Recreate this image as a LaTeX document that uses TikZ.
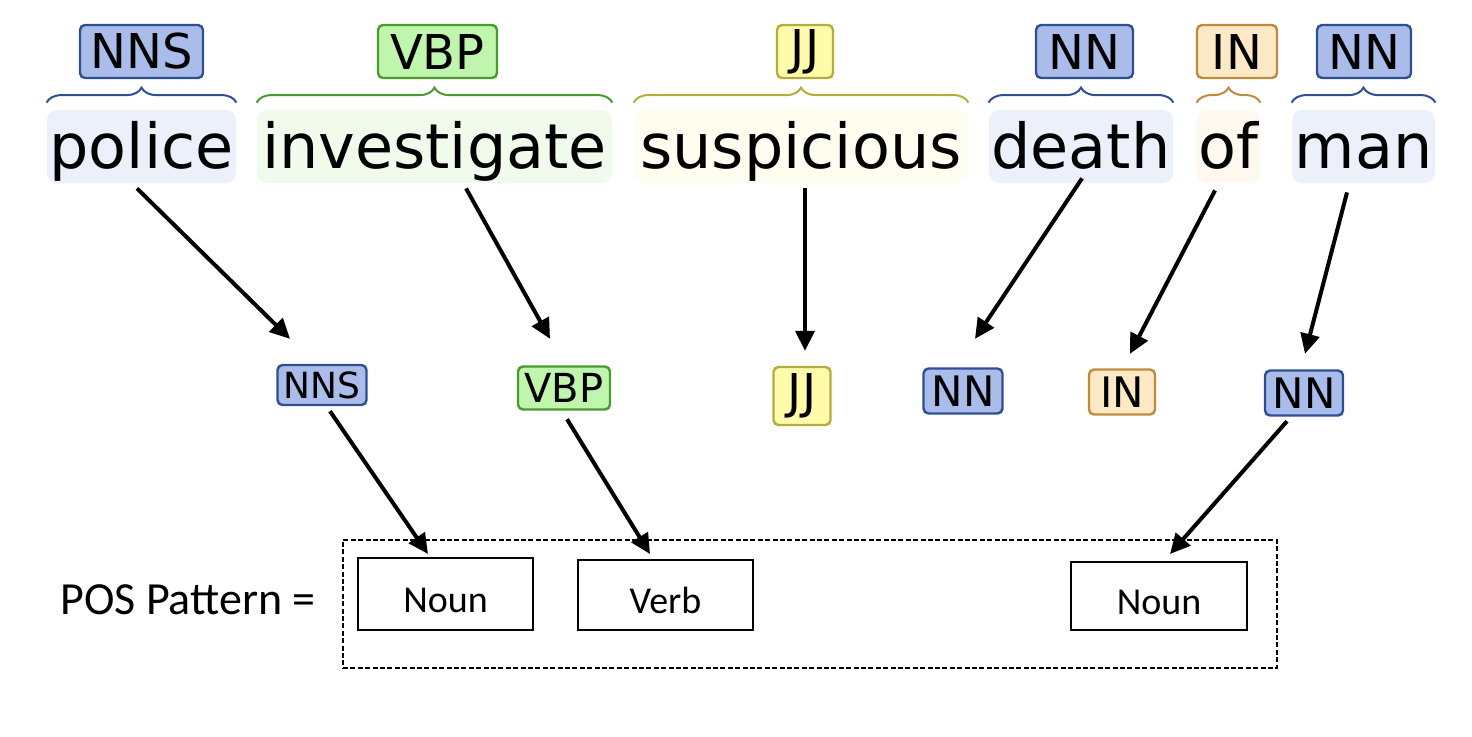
\documentclass[tikz,border=0pt]{standalone}
\usepackage{fontspec}
\setmainfont{DejaVu Sans}
\newfontfamily\calfont{Carlito}
\usetikzlibrary{arrows.meta,decorations.pathreplacing,calc}
\definecolor{bluefill}{HTML}{A9BCEA}
\definecolor{blueline}{HTML}{2F4F94}
\definecolor{bluebg}{HTML}{ECF0FA}
\definecolor{greenfill}{HTML}{C0F5AE}
\definecolor{greenline}{HTML}{4A9A2E}
\definecolor{greenbg}{HTML}{F0FBEC}
\definecolor{yellowfill}{HTML}{FFFBAA}
\definecolor{yellowline}{HTML}{B3AE3C}
\definecolor{yellowbg}{HTML}{FFFDEF}
\definecolor{orangefill}{HTML}{FDE9C6}
\definecolor{orangeline}{HTML}{C08A3E}
\definecolor{orangebg}{HTML}{FFF8EF}
\tikzset{
  word/.style={fill=#1, rounded corners=5pt, inner xsep=0pt, inner ysep=0pt,
    minimum height=36.5pt, text height=29pt, text depth=7.5pt,
    font=\fontsize{31}{31}\selectfont},
  tag/.style n args={2}{fill=#1, draw=#2, line width=1.2pt, rounded corners=2.5pt, inner sep=0pt},
  toptag/.style={font=\fontsize{24}{24}\selectfont, minimum height=26.5pt},
  brc/.style={decorate, decoration={brace, amplitude=7.5pt}, line width=1pt},
  arr/.style={line width=2pt, -{Triangle[length=10pt,width=9.5pt]}},
  pbox/.style={draw=black, line width=1pt, inner sep=0pt, text height=18pt, text depth=0pt,
    font=\calfont\fontsize{19}{19}\selectfont},
  patbox/.style={draw=black, line width=1.1pt, dash pattern=on 2.5pt off 1.2pt, inner sep=0pt},
}
\begin{document}
\begin{tikzpicture}[x=0.5pt,y=-0.5pt]
\useasboundingbox (0,0) rectangle (1472,736);

% words
\node[word=bluebg, minimum width=94.5pt] (w1) at (141.5,146.5) {police};
\node[word=greenbg, minimum width=177.5pt] (w2) at (434.5,146.5) {investigate};
\node[word=yellowbg, minimum width=167pt] (w3) at (801,146.5) {suspicious};
\node[word=bluebg, minimum width=92pt] (w4) at (1081,146.5) {death};
\node[word=orangebg, minimum width=31.5pt] (w5) at (1228.5,146.5) {of};
\node[word=bluebg, minimum width=71.5pt] (w6) at (1363.5,146.5) {man};

% braces
\draw[brc, blueline] ($(w1.north west)+(0,-7)$) -- ($(w1.north east)+(0,-7)$);
\draw[brc, greenline] ($(w2.north west)+(0,-7)$) -- ($(w2.north east)+(0,-7)$);
\draw[brc, yellowline] ($(w3.north west)+(0,-7)$) -- ($(w3.north east)+(0,-7)$);
\draw[brc, blueline] ($(w4.north west)+(0,-7)$) -- ($(w4.north east)+(0,-7)$);
\draw[brc, orangeline] ($(w5.north west)+(0,-7)$) -- ($(w5.north east)+(0,-7)$);
\draw[brc, blueline] ($(w6.north west)+(0,-7)$) -- ($(w6.north east)+(0,-7)$);

% top tags
\node[tag={bluefill}{blueline}, toptag, minimum width=61.5pt] (t1) at (141.5,51.5) {NNS};
\node[tag={greenfill}{greenline}, toptag, minimum width=59.5pt] (t2) at (437.5,51.5) {VBP};
\node[tag={yellowfill}{yellowline}, toptag, minimum width=28pt] (t3) at (805,51.5) {JJ};
\node[tag={bluefill}{blueline}, toptag, minimum width=48.5pt] (t4) at (1084.5,51.5) {NN};
\node[tag={orangefill}{orangeline}, toptag, minimum width=40pt] (t5) at (1237,51.5) {IN};
\node[tag={bluefill}{blueline}, toptag, minimum width=47pt] (t6) at (1364,51.5) {NN};

% middle tags
\node[tag={bluefill}{blueline}, font=\fontsize{18}{18}\selectfont, minimum width=44.5pt, minimum height=20pt] (m1) at (322,385) {NNS};
\node[tag={greenfill}{greenline}, font=\fontsize{20}{20}\selectfont, minimum width=46pt, minimum height=21.5pt] (m2) at (564,388) {VBP};
\node[tag={yellowfill}{yellowline}, font=\fontsize{24}{24}\selectfont, minimum width=28.5pt, minimum height=29pt] (m3) at (802,396) {JJ};
\node[tag={bluefill}{blueline}, font=\fontsize{21}{21}\selectfont, minimum width=39.5pt, minimum height=22.5pt] (m4) at (963,391) {NN};
\node[tag={orangefill}{orangeline}, font=\fontsize{21}{21}\selectfont, minimum width=33pt, minimum height=22.5pt] (m5) at (1122,392) {IN};
\node[tag={bluefill}{blueline}, font=\fontsize{21}{21}\selectfont, minimum width=39pt, minimum height=22.5pt] (m6) at (1304,393) {NN};

% pattern
\node[patbox, minimum width=467pt, minimum height=64pt] (pat) at (810,604) {};
\node[font=\calfont\fontsize{23}{23}\selectfont, inner sep=0pt] (lbl) at (188,600) {POS Pattern =};
\node[pbox, minimum width=87.5pt, minimum height=36pt] (b1) at (445.5,594) {Noun};
\node[pbox, minimum width=87.5pt, minimum height=35pt] (b2) at (665.5,595) {Verb};
\node[pbox, minimum width=88pt, minimum height=34pt] (b3) at (1159,596) {Noun};

% arrows
\draw[arr] ($(w1.south)+(-4.5,5)$) -- ($(m1.north)+(-32,-25)$);
\draw[arr] ($(w2.south)+(31.5,5)$) -- ($(m2.north)+(-14,-26.5)$);
\draw[arr] ($(w3.south)+(4,5)$) -- ($(m3.north)+(3,-15)$);
\draw[arr] ($(w4.south)+(1,-5)$) -- ($(m4.north)+(12,-28.5)$);
\draw[arr] ($(w5.south)+(-13.5,7)$) -- ($(m5.north)+(8,-14.5)$);
\draw[arr] ($(w6.south)+(-16.5,9)$) -- ($(m6.north)+(1,-15.5)$);
\draw[arr] ($(m1.south)+(8,5)$) -- ($(b1.north)+(-17.5,-3)$);
\draw[arr] ($(m2.south)+(3,8.5)$) -- ($(b2.north)+(-15.5,-5)$);
\draw[arr] ($(m6.south)+(-17,4.5)$) -- ($(b3.north)+(11,-7)$);
\end{tikzpicture}
\end{document}
